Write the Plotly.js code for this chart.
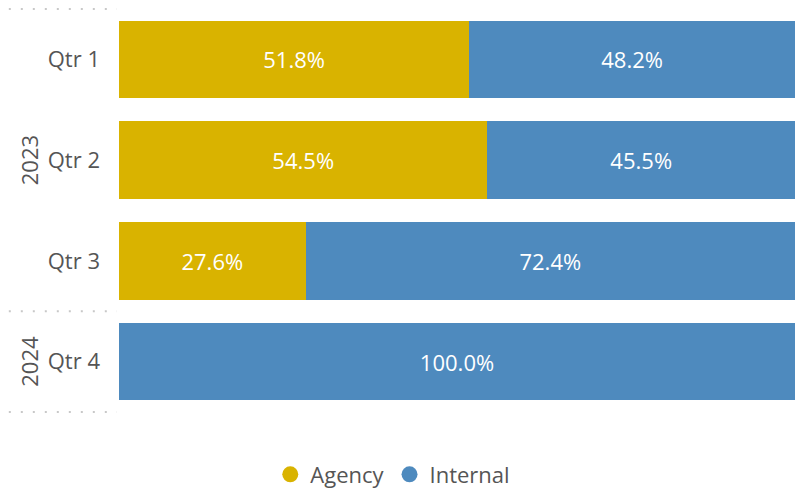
<!DOCTYPE html>
<html>
<head>
<meta charset="utf-8">
<script src="https://cdn.plot.ly/plotly-3.0.1.min.js"></script>
<style>
  body { margin: 0; background: #fff; }
  #chart { width: 795px; height: 489px; }
</style>
</head>
<body>
<div id="chart"></div>
<script>
// data
var quarters = ['Qtr 1', 'Qtr 2', 'Qtr 3', 'Qtr 4'];
var years = ['2023', '2023', '2023', '2024'];
var agency = [51.8, 54.5, 27.6, 0];
var internal = [48.2, 45.5, 72.4, 100];

var agencyColor = '#D9B300';
var internalColor = '#4E8ABE';
var fontFam = '"Open Sans", "Noto Sans", sans-serif';

function pctText(arr) {
    return arr.map(function (v) { return v > 0 ? v.toFixed(1) + '%' : ''; });
}

var trace1 = {
    name: 'Agency',
    type: 'bar',
    orientation: 'h',
    x: agency,
    y: quarters,
    text: pctText(agency),
    textposition: 'inside',
    insidetextanchor: 'middle',
    textfont: {color: '#ffffff', size: 22, family: fontFam},
    marker: {color: agencyColor},
    showlegend: false,
    hoverinfo: 'none'
};

var trace2 = {
    name: 'Internal',
    type: 'bar',
    orientation: 'h',
    x: internal,
    y: quarters,
    text: pctText(internal),
    textposition: 'inside',
    insidetextanchor: 'middle',
    textfont: {color: '#ffffff', size: 22, family: fontFam},
    marker: {color: internalColor},
    showlegend: false,
    hoverinfo: 'none'
};

// legend entries with round markers
var leg1 = {name: 'Agency', type: 'scatter', mode: 'markers', x: [null], y: [null],
    marker: {color: agencyColor, size: 20, symbol: 'circle'}};
var leg2 = {name: 'Internal', type: 'scatter', mode: 'markers', x: [null], y: [null],
    marker: {color: internalColor, size: 20, symbol: 'circle'}};

// year group labels and dotted separators
var annotations = [];
var shapes = [];
var dotLine = {color: '#c8c8c8', width: 2, dash: '2px,10px'};
shapes.push({type: 'line', xref: 'paper', yref: 'y', x0: -0.163, x1: -0.003, y0: -0.5, y1: -0.5, line: dotLine});
var start = 0;
for (var i = 1; i <= years.length; i++) {
    if (i === years.length || years[i] !== years[start]) {
        annotations.push({
            text: years[start], xref: 'paper', yref: 'y',
            x: -0.133, y: (start + i - 1) / 2,
            xanchor: 'center', yanchor: 'middle',
            textangle: -90, showarrow: false,
            font: {size: 22, color: '#555555', family: fontFam}
        });
        shapes.push({type: 'line', xref: 'paper', yref: 'y', x0: -0.163, x1: -0.003,
            y0: i - 0.5, y1: i - 0.5, line: dotLine});
        start = i;
    }
}

var layout = {
    width: 795,
    height: 489,
    barmode: 'stack',
    bargap: 0.23,
    margin: {l: 119, r: 0, t: 8, b: 76, autoexpand: false},
    paper_bgcolor: '#ffffff',
    plot_bgcolor: '#ffffff',
    font: {family: fontFam, color: '#555555'},
    xaxis: {range: [0, 100], visible: false, fixedrange: true},
    yaxis: {
        type: 'category',
        autorange: 'reversed',
        showgrid: false,
        zeroline: false,
        showline: false,
        ticks: '',
        ticklabelstandoff: 18,
        tickfont: {size: 22, color: '#555555', family: fontFam}
    },
    showlegend: true,
    legend: {
        orientation: 'h',
        traceorder: 'normal',
        x: 0.405, xanchor: 'center',
        y: -0.152, yanchor: 'middle',
        font: {size: 22, color: '#555555', family: fontFam},
        itemwidth: 30,
        tracegroupgap: 0
    },
    annotations: annotations,
    shapes: shapes
};

var config = {displayModeBar: false, staticPlot: true};
Plotly.newPlot('chart', [trace1, trace2, leg1, leg2], layout, config);
</script>
</body>
</html>
